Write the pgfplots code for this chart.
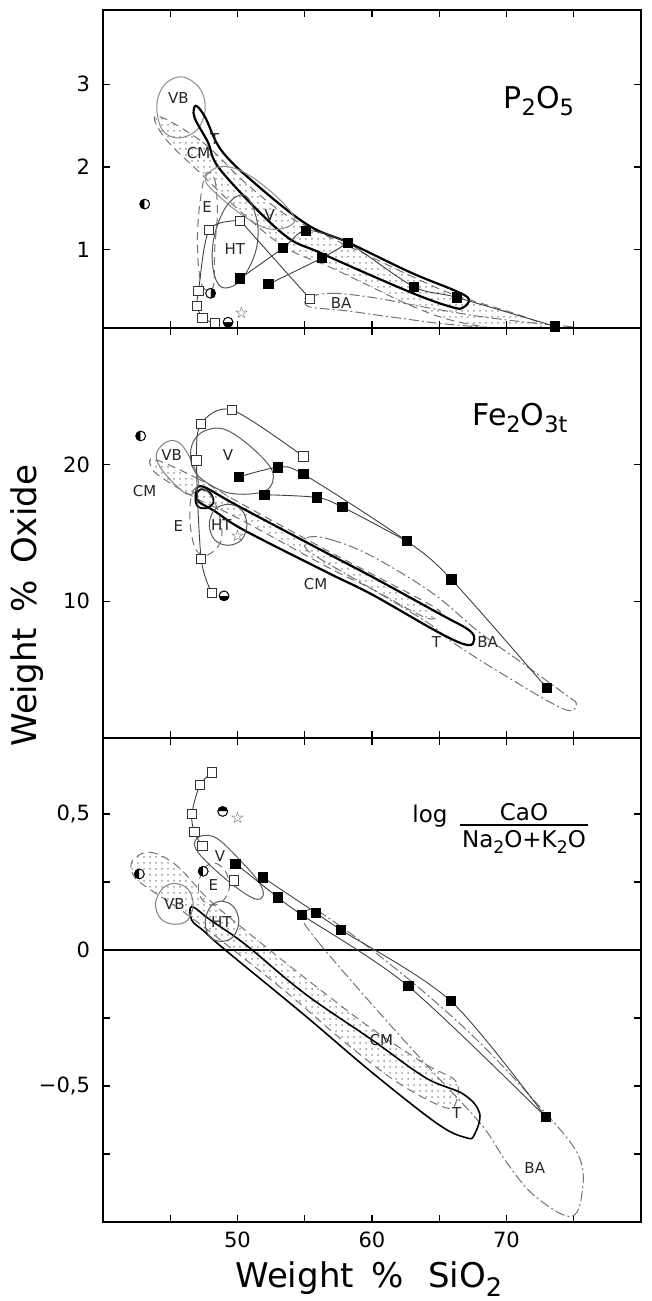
\documentclass[border=0pt]{standalone}
\usepackage{fontspec}
\setmainfont{DejaVu Sans}
\usepackage{graphicx}
\usepackage{pgfplots}
\pgfplotsset{compat=1.18}
\usetikzlibrary{patterns,plotmarks}
\newcommand{\fs}[1]{\fontsize{#1}{#1}\selectfont}
\newcommand{\sub}[1]{\raisebox{-0.45ex}{\scalebox{0.75}{#1}}}

\tikzset{flab/.style={font=\fs{7.5}, inner sep=0pt, text=black!85}}

\pgfplotsset{
  panel/.style={
    scale only axis, width=269pt, anchor=south west,
    xmin=40, xmax=80,
    xtick={45,50,55,60,65,70,75}, xticklabels={},
    tick align=inside, major tick length=3.5pt,
    tick style={black, line width=0.7pt},
    axis line style={black, line width=0.8pt},
    /pgf/number format/assume math mode=true,
    tick label style={font=\fs{10.5}},
    yticklabel style={xshift=-3pt},
    xticklabel style={yshift=-1.5pt},
  },
  field/.style={smooth cycle, tension=0.6, draw=black!65, line width=0.5pt, no markers},
  fieldT/.style={smooth cycle, tension=0.6, draw=black, line width=1.1pt, no markers},
  fieldD/.style={smooth cycle, tension=0.6, draw=black!55, line width=0.5pt, dash pattern=on 4pt off 2.5pt, no markers},
  fieldCM/.style={fieldD, pattern=dots, pattern color=black!40},
  fieldBA/.style={smooth cycle, tension=0.6, draw=black!55, line width=0.5pt, dash pattern=on 5pt off 1.5pt on 1pt off 1.5pt, no markers},
  trend/.style={smooth, tension=0.5, draw=black!75, line width=0.45pt, no markers},
  fsq/.style={only marks, mark=square*, mark size=2.3pt, mark options={draw=black, fill=black}},
  osq/.style={only marks, mark=square*, mark size=2.3pt, mark options={draw=black!80, fill=white, line width=0.5pt}},
  ostar/.style={only marks, mark=text, text mark={\fs{8}\textcolor{black!70}{☆}}},
}

% half-filled circle: white disc, then the filled half turned by #3
\newcommand{\hc}[3]{%
  \addplot[only marks, mark=*, mark size=2.4pt, mark options={draw=black, fill=white, line width=0.5pt}] coordinates {(#1,#2)};
  \addplot[only marks, mark=halfcircle*, mark size=2.4pt, mark options={draw=black, fill=black, rotate=#3}] coordinates {(#1,#2)};
}

\begin{document}
\begin{tikzpicture}
\useasboundingbox (0,0) rectangle (326pt,650.5pt);

% ---------------- P2O5 ----------------
\begin{axis}[panel, at={(51.5pt,486.5pt)}, height=159pt, ymin=0.05, ymax=3.9, ytick={1,2,3}]
\addplot[fieldCM] coordinates {(44.0,2.62)(47.4,2.3)(50.5,1.82)(53.6,1.42)(56.7,1.16)(59.8,0.92)(62.9,0.68)(66,0.46)(70.7,0.22)(72.5,0.1)(72,0.0)(70.7,0.0)(66,0.14)(62.9,0.32)(59.8,0.56)(56.7,0.8)(53.6,1.02)(50.5,1.42)(47.4,1.9)(44.6,2.35)};
\addplot[fieldBA] coordinates {(55.2,0.42)(57,0.47)(60,0.42)(64,0.3)(68,0.19)(72,0.11)(75,0.06)(75.2,0.02)(72,0.02)(66,0.09)(62,0.17)(58,0.26)(55.5,0.3)(55.0,0.36)};
\addplot[field, draw=black!45] coordinates {(44.0,2.75)(44.6,3.0)(45.9,3.09)(47.2,2.95)(47.6,2.7)(47.0,2.45)(45.6,2.35)(44.4,2.45)};
\addplot[fieldT] coordinates {(46.9,2.74)(47.6,2.6)(48.8,2.2)(51.3,1.8)(55.2,1.3)(58.3,1.08)(62.9,0.72)(66.2,0.5)(67.2,0.4)(66.8,0.3)(66,0.3)(62.9,0.48)(56.3,0.95)(53.3,1.2)(48.8,1.95)(47.8,2.3)(46.8,2.6)};
\addplot[fieldD] coordinates {(47.6,1.9)(48.3,1.85)(48.5,1.45)(48.3,1.0)(48.2,0.55)(47.4,0.55)(47.05,0.9)(47.1,1.4)};
\addplot[field, draw=black!45] coordinates {(47.6,1.85)(48.6,2.0)(50.3,1.95)(52.5,1.7)(54.2,1.4)(53.8,1.28)(52.3,1.25)(50.5,1.4)(48.6,1.65)};
\addplot[field] coordinates {(50.8,1.62)(51.5,1.3)(51.3,0.95)(50.2,0.62)(48.85,0.54)(48.2,0.75)(48.2,1.1)(48.9,1.45)(49.9,1.64)};
% open-square suite
\addplot[trend] coordinates {(48.3,0.11)(47.4,0.17)(47.0,0.32)(47.1,0.5)(47.9,1.24)(50.2,1.35)};
\addplot[draw=black!75, line width=0.45pt] coordinates {(50.2,1.35)(55.4,0.4)};
\addplot[osq] coordinates {(48.3,0.11)(47.4,0.17)(47.0,0.32)(47.1,0.5)(47.9,1.24)(50.2,1.35)(55.4,0.4)};
% filled-square suites
\addplot[trend] coordinates {(50.2,0.65)(53.4,1.02)(55.1,1.23)(58.2,1.08)(63.1,0.55)(66.3,0.42)(73.6,0.07)};
\addplot[trend] coordinates {(52.3,0.58)(56.3,0.9)(58.2,1.08)};
\addplot[fsq] coordinates {(50.2,0.65)(52.3,0.58)(53.4,1.02)(55.1,1.23)(56.3,0.9)(58.2,1.08)(63.1,0.55)(66.3,0.42)(73.6,0.07)};
\hc{43.1}{1.55}{90}
\hc{48.0}{0.47}{-90}
\hc{49.3}{0.12}{180}
\addplot[ostar] coordinates {(50.3,0.24)};
\node[flab] at (axis cs:45.6,2.83) {VB};
\node[flab] at (axis cs:48.3,2.34) {T};
\node[flab] at (axis cs:47.1,2.17) {CM};
\node[flab] at (axis cs:47.75,1.51) {E};
\node[flab] at (axis cs:49.8,1.0) {HT};
\node[flab] at (axis cs:52.4,1.42) {V};
\node[flab] at (axis cs:57.7,0.35) {BA};
\node[font=\fs{15}, inner sep=0pt] at (axis cs:72.4,2.8) {P\sub{2}O\sub{5}};
\end{axis}

% ---------------- Fe2O3t ----------------
\begin{axis}[panel, at={(51.5pt,281.5pt)}, height=205pt, ymin=0, ymax=30, ytick={10,20}]
\addplot[fieldCM] coordinates {(43.8,20.4)(47,19.0)(50,17.3)(56.7,13.7)(60,12.0)(64.6,9.6)(64.9,9.1)(64,8.8)(60,10.9)(56.7,12.5)(50,16.1)(47,17.5)(44.3,19.1)(43.6,19.8)};
\addplot[fieldBA] coordinates {(55.3,14.7)(57,14.5)(60,13.3)(64.5,10.6)(67.9,7.8)(71,5.6)(74.5,3.1)(75.2,2.5)(74.3,2.1)(70,4.5)(66,7.0)(64.2,8.4)(60,10.9)(56,13.2)(55.0,14.0)};
\addplot[fieldT] coordinates {(47.4,18.4)(50,17.0)(56.7,13.5)(60,11.8)(65,9.1)(67.2,7.9)(67.6,7.2)(67.1,6.8)(65,7.7)(60,10.5)(56.7,12.1)(50.5,15.2)(48.3,16.6)(47.1,17.3)(46.9,17.9)};
\addplot[fieldT, line width=0.9pt] coordinates {(47.3,18.2)(48.0,17.9)(48.2,17.2)(47.6,16.8)(47.0,17.0)(46.9,17.7)};
\addplot[field, draw=black!50] coordinates {(44.0,20.9)(44.8,21.7)(45.8,21.5)(46.8,19.8)(47.1,18.5)(46.4,17.8)(45.3,18.6)(44.2,19.9)};
\addplot[field] coordinates {(46.6,21.4)(47.4,22.4)(49.0,22.6)(51.0,21.3)(52.6,19.5)(52.1,18.1)(49.5,17.9)(47.4,18.9)(46.6,20.0)};
\addplot[field] coordinates {(49.3,17.1)(50.3,16.7)(50.7,15.6)(50.3,14.5)(49.3,14.1)(48.3,14.5)(47.9,15.6)(48.3,16.7)};
\addplot[fieldD] coordinates {(46.9,18.3)(47.8,18.0)(48.6,16.5)(48.8,14.5)(47.8,13.4)(46.9,13.8)(46.5,15.5)(46.5,17.3)};
% open-square suite
\addplot[trend] coordinates {(54.9,20.6)(49.6,24.0)(47.3,23.0)(46.95,20.3)(47.3,13.1)(48.1,10.6)};
\addplot[osq] coordinates {(54.9,20.6)(49.6,24.0)(47.3,23.0)(46.95,20.3)(47.3,13.1)(48.1,10.6)};
% filled-square suites
\addplot[trend] coordinates {(50.1,19.1)(53.0,19.8)(54.9,19.3)(62.6,14.4)(65.9,11.6)(73.0,3.65)};
\addplot[trend] coordinates {(52.0,17.8)(55.9,17.6)(57.8,16.9)(62.6,14.4)};
\addplot[fsq] coordinates {(50.1,19.1)(53.0,19.8)(54.9,19.3)(52.0,17.8)(55.9,17.6)(57.8,16.9)(62.6,14.4)(65.9,11.6)(73.0,3.65)};
\hc{42.8}{22.1}{90}
\hc{49.0}{10.4}{180}
\addplot[ostar] coordinates {(50.0,14.8)};
\node[flab] at (axis cs:45.1,20.7) {VB};
\node[flab] at (axis cs:43.1,18.1) {CM};
\node[flab] at (axis cs:45.6,15.5) {E};
\node[flab] at (axis cs:48.8,15.6) {HT};
\node[flab] at (axis cs:49.3,20.7) {V};
\node[flab] at (axis cs:55.8,11.3) {CM};
\node[flab] at (axis cs:64.8,7.0) {T};
\node[flab] at (axis cs:68.6,7.0) {BA};
\node[font=\fs{15}, inner sep=0pt] at (axis cs:71.0,23.4) {Fe\sub{2}O\sub{3t}};
\end{axis}

% ---------------- log CaO/(Na2O+K2O) ----------------
\begin{axis}[panel, at={(51.5pt,39.5pt)}, height=242pt, ymin=-1, ymax=0.78,
  ytick={-0.75,-0.5,-0.25,0,0.25,0.5}, yticklabels={,{−0,5},,0,,{0,5}},
  xticklabels={,50,,60,,70,}]
\addplot[black, line width=0.8pt] coordinates {(40,0)(80,0)};
\addplot[fieldCM] coordinates {(42.2,0.33)(43.5,0.36)(45.5,0.31)(48,0.18)(52.4,0.0)(56,-0.14)(60,-0.29)(64,-0.42)(66.2,-0.48)(66.3,-0.55)(65.5,-0.58)(62,-0.49)(58,-0.34)(54,-0.17)(49.7,0.0)(46,0.14)(43,0.24)(42.2,0.28)};
\addplot[fieldBA] coordinates {(54.8,0.12)(56,0.03)(60,-0.2)(64,-0.42)(68.1,-0.64)(70,-0.78)(72,-0.9)(74.7,-0.98)(75.6,-0.9)(75.3,-0.75)(72,-0.55)(68,-0.34)(64,-0.16)(59.5,0.02)(57,0.11)(55.6,0.15)};
\addplot[fieldT, line width=0.8pt] coordinates {(46.6,0.16)(48,0.11)(50.6,0.02)(55,-0.16)(60,-0.33)(64,-0.47)(66.8,-0.53)(68.0,-0.6)(67.6,-0.68)(67.0,-0.69)(64.9,-0.64)(60,-0.45)(55,-0.24)(49.1,0.0)(47.5,0.07)(46.6,0.11)};
\addplot[field, draw=black!50] coordinates {(43.9,0.17)(44.4,0.225)(45.3,0.245)(46.3,0.225)(46.7,0.17)(46.3,0.11)(45.3,0.095)(44.3,0.115)};
\addplot[field] coordinates {(47.6,0.106)(48.0,0.16)(48.8,0.18)(49.7,0.16)(50.1,0.106)(49.7,0.05)(48.8,0.032)(47.9,0.05)};
\addplot[fieldD] coordinates {(47.1,0.24)(47.5,0.3)(48.3,0.32)(49.1,0.29)(49.4,0.23)(48.9,0.18)(48.1,0.165)(47.3,0.19)};
\addplot[field] coordinates {(46.8,0.39)(47.3,0.42)(48.5,0.41)(50.2,0.33)(51.6,0.25)(51.9,0.2)(51.2,0.19)(49.4,0.25)(47.4,0.34)};
% open-square suite
\addplot[trend] coordinates {(48.1,0.653)(47.2,0.606)(46.6,0.50)(46.8,0.433)(47.4,0.382)};
\addplot[osq] coordinates {(48.1,0.653)(47.2,0.606)(46.6,0.50)(46.8,0.433)(47.4,0.382)(49.75,0.256)};
% filled-square suites
\addplot[trend] coordinates {(49.85,0.318)(53.0,0.194)(54.8,0.129)(62.7,-0.133)(72.9,-0.613)};
\addplot[trend] coordinates {(51.9,0.267)(55.8,0.138)(57.7,0.074)(65.85,-0.187)(72.9,-0.613)};
\addplot[fsq] coordinates {(49.85,0.318)(51.9,0.267)(53.0,0.194)(54.8,0.129)(55.8,0.138)(57.7,0.074)(62.7,-0.133)(65.85,-0.187)(72.9,-0.613)};
\hc{42.7}{0.28}{90}
\hc{47.45}{0.29}{90}
\hc{48.9}{0.51}{0}
\addplot[ostar] coordinates {(50.0,0.485)};
\node[flab] at (axis cs:48.7,0.345) {V};
\node[flab] at (axis cs:48.2,0.24) {E};
\node[flab] at (axis cs:45.3,0.17) {VB};
\node[flab] at (axis cs:48.8,0.105) {HT};
\node[flab] at (axis cs:60.7,-0.33) {CM};
\node[flab] at (axis cs:66.3,-0.6) {T};
\node[flab] at (axis cs:72.1,-0.80) {BA};
\end{axis}

% ratio label of the lower panel
\node[anchor=base west, inner sep=0pt, font=\fs{11.5}] at (206pt,239pt) {log};
\node[inner sep=0pt, font=\fs{11.5}] at (262pt,244.5pt) {CaO};
\draw[line width=0.6pt] (230pt,238pt) -- (294pt,238pt);
\node[inner sep=0pt, font=\fs{11.5}] at (262pt,229.5pt) {Na\sub{2}O+K\sub{2}O};

% axis titles
\node[anchor=base west, inner sep=0pt, font=\fs{17}] at (117.5pt,6.5pt) {Weight\hspace{9pt}\%\hspace{12pt}SiO\sub{2}};
\node[anchor=base west, inner sep=0pt, rotate=90, font=\fs{17}] at (18pt,277pt) {Weight\hspace{8pt}\%\hspace{8pt}Oxide};
\end{tikzpicture}
\end{document}
